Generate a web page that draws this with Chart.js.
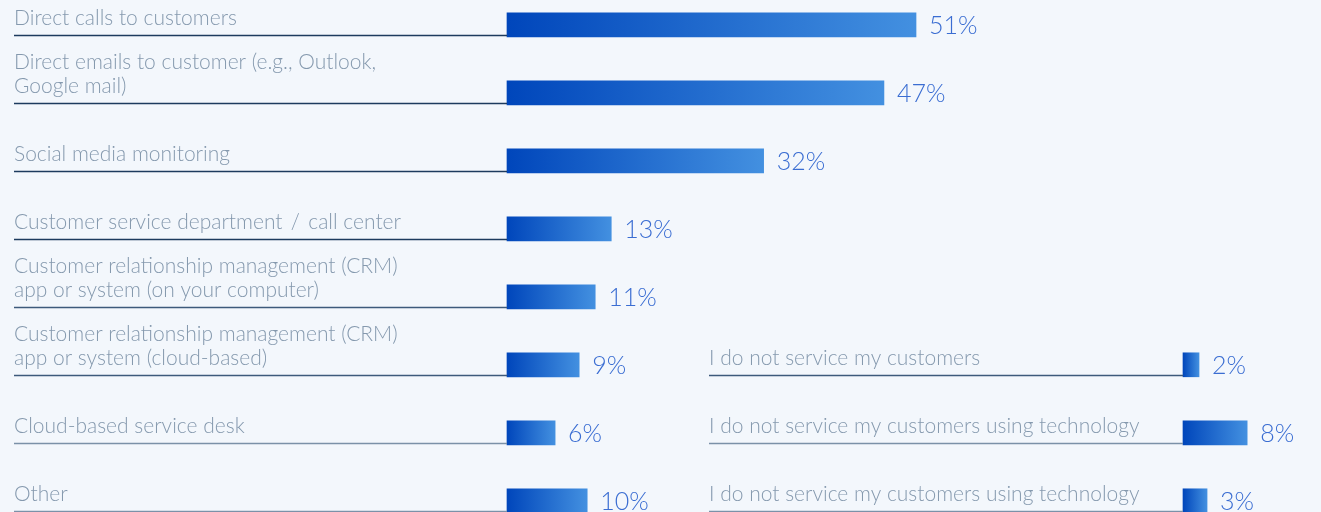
<!DOCTYPE html>
<html>
<head>
  <title>Customer service channels</title>
  <script src="https://cdn.jsdelivr.net/npm/chart.js"></script>
  <style>
    html, body {
      margin: 0;
      padding: 0;
      background: #f3f7fc;
    }
    #wrap {
      position: relative;
      width: 1321px;
      height: 512px;
      overflow: hidden;
    }
    #wrap canvas {
      position: absolute;
      left: 0;
      top: 0;
    }
  </style>
</head>
<body>
  <div id="wrap">
    <canvas id="leftChart" width="1321" height="512"></canvas>
    <canvas id="rightChart" width="1321" height="512"></canvas>
  </div>

  <script>
    const leftCategories = [
      ['Direct calls to customers'],
      ['Direct emails to customer (e.g., Outlook,', 'Google mail)'],
      ['Social media monitoring'],
      ['Customer service department \u2009/ \u2009call center'],
      ['Customer relationship management (CRM)', 'app or system (on your computer)'],
      ['Customer relationship management (CRM)', 'app or system (cloud-based)'],
      ['Cloud-based service desk'],
      ['Other']
    ];
    const leftValues = [51, 47, 32, 13, 11, 9, 6, 10];

    const rightCategories = [
      ['I do not service my customers'],
      ['I do not service my customers using technology'],
      ['I do not service my customers using technology']
    ];
    const rightValues = [2, 8, 3];

    const PX_PER_PCT = 8.02;
    const ROW_STEP = 68;

    function barFill(context) {
      const chart = context.chart;
      const x = chart.scales.x;
      if (!chart.chartArea || !x) return '#1a5fd0';
      const v = context.raw || 0;
      const x0 = x.getPixelForValue(0);
      const x1 = Math.max(x.getPixelForValue(v), x0 + 1);
      const g = chart.ctx.createLinearGradient(x0, 0, x1, 0);
      g.addColorStop(0, '#0046bb');
      g.addColorStop(1, '#4390e0');
      return g;
    }

    const labelPlugin = {
      id: 'rowLabels',
      afterDatasetsDraw(chart, args, opts) {
        const ctx = chart.ctx;
        const xs = chart.scales.x;
        const ys = chart.scales.y;
        const values = chart.data.datasets[0].data;
        ctx.save();
        chart.data.labels.forEach(function (lines, i) {
          const y = ys.getPixelForValue(i);
          const lineY = Math.round(y + 10) + 0.5;
          // underline, darker near the top
          const t = lineY / 512;
          ctx.strokeStyle = t < 0.5 ? '#1d3b5e' : (t < 0.75 ? '#3d5a7b' : '#7b91a8');
          ctx.lineWidth = 1.4;
          ctx.beginPath();
          ctx.moveTo(opts.textX, lineY);
          ctx.lineTo(xs.left, lineY);
          ctx.stroke();
          // category text
          ctx.font = '300 21px Lato, "Open Sans", sans-serif';
          ctx.fillStyle = '#8599ae';
          ctx.textAlign = 'left';
          ctx.textBaseline = 'alphabetic';
          const n = lines.length;
          lines.forEach(function (txt, k) {
            ctx.fillText(txt, opts.textX, lineY - 11 - (n - 1 - k) * 24);
          });
          // value text
          const xe = xs.getPixelForValue(values[i]);
          ctx.font = '300 25px Lato, "Open Sans", sans-serif';
          ctx.fillStyle = '#3a6dd2';
          ctx.fillText(values[i] + '%', xe + 13, y + 9);
        });
        ctx.restore();
      }
    };

    function makeChart(id, labels, values, pad, xMax, textX) {
      return new Chart(document.getElementById(id), {
        type: 'bar',
        data: {
          labels: labels,
          datasets: [{
            data: values,
            backgroundColor: barFill,
            borderWidth: 0,
            barThickness: 24,
            clip: false
          }]
        },
        options: {
          indexAxis: 'y',
          responsive: false,
          animation: false,
          events: [],
          layout: { padding: pad },
          scales: {
            x: { min: 0, max: xMax, display: false },
            y: { type: 'category', offset: false, display: false }
          },
          plugins: {
            legend: { display: false },
            tooltip: { enabled: false },
            rowLabels: { textX: textX }
          }
        },
        plugins: [labelPlugin]
      });
    }

    const topFirst = 24.8;
    const bottomPad = 512 - (topFirst + ROW_STEP * (leftValues.length - 1));

    makeChart('leftChart', leftCategories, leftValues,
      { left: 507, right: 1321 - 507 - 802, top: topFirst, bottom: bottomPad },
      802 / PX_PER_PCT, 14);

    makeChart('rightChart', rightCategories, rightValues,
      { left: 1183, right: 0, top: 512 - bottomPad - ROW_STEP * (rightValues.length - 1), bottom: bottomPad },
      138 / PX_PER_PCT, 709);
  </script>
</body>
</html>
